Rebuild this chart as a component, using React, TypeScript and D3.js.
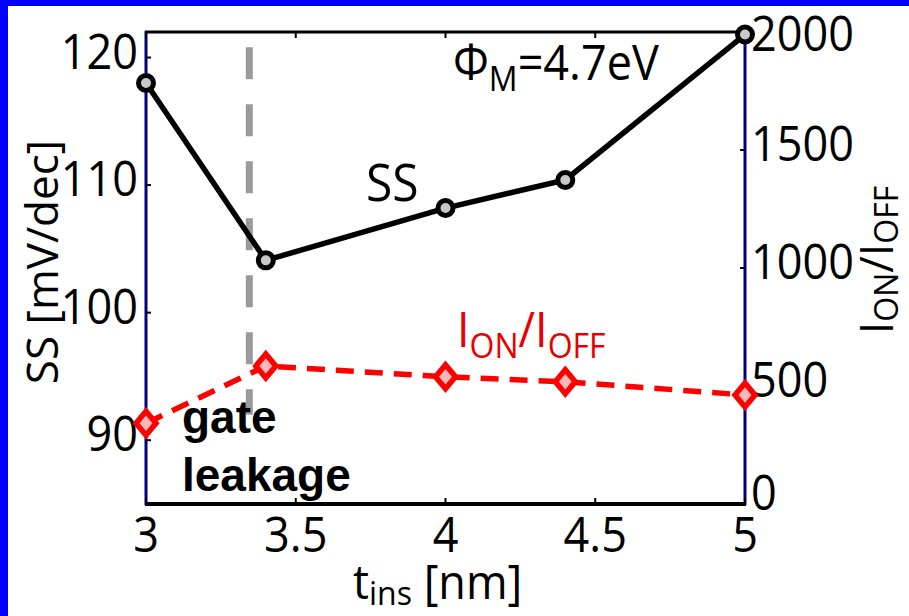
import React from "react";
import * as d3 from "d3";

const tIns = [3, 3.4, 4, 4.4, 5];
const ssValues = [118, 104.1, 108.2, 110.4, 121.8];
const ionIoffValues = [342, 585, 539, 518, 462];
const xTicks = [3, 3.5, 4, 4.5, 5];
const leftTicks = [90, 100, 110, 120];
const rightTicks = [0, 500, 1000, 1500, 2000];
const leakageX = 3.345;
const leakageRange = [92.0, 120.8];

const W = 909;
const H = 616;
const FONT = "'Open Sans', 'Noto Sans', sans-serif";
const SY = 1.08;

function T(props: any) {
  const { x, y, rotate, sy, children, ...rest } = props;
  const tr = `translate(${x},${y})${rotate ? ` rotate(${rotate})` : ""} scale(1,${sy ?? SY})`;
  return (
    <text transform={tr} fontFamily={FONT} fill="#000" {...rest}>
      {children}
    </text>
  );
}

export default function App() {
  const x = d3.scaleLinear().domain([3, 5]).range([146, 745]);
  const yL = d3.scaleLinear().domain([85, 122]).range([504, 32]);
  const yR = d3.scaleLinear().domain([0, 2000]).range([504, 32]);

  const ssLine = d3
    .line<number>()
    .x((_, i) => x(tIns[i]))
    .y((d) => yL(d));
  const ionLine = d3
    .line<number>()
    .x((_, i) => x(tIns[i]))
    .y((d) => yR(d));

  const diamond = (cx: number, cy: number) =>
    `M${cx},${cy - 12} L${cx + 10},${cy} L${cx},${cy + 12} L${cx - 10},${cy} Z`;

  return (
    <svg
      width={W}
      height={H}
      style={{ position: "absolute", left: 0, top: 0, display: "block" }}
    >
      <rect x={0} y={0} width={W} height={H} fill="#ffffff" />
      {/* blue frame */}
      <rect x={0} y={0} width={W} height={6} fill="#0000fe" />
      <rect x={0} y={0} width={8} height={H} fill="#0000fe" />

      {/* gate leakage vertical dashed line */}
      <line
        x1={x(leakageX)}
        x2={x(leakageX)}
        y1={yL(leakageRange[1])}
        y2={yL(leakageRange[0])}
        stroke="#9a9a9a"
        strokeWidth={7}
        strokeDasharray="32 25"
      />

      {/* axes */}
      <line x1={x(3) - 1} x2={x(5) + 1} y1={32} y2={32} stroke="#000" strokeWidth={3} />
      <line x1={x(3) - 1} x2={x(5) + 1} y1={504} y2={504} stroke="#000" strokeWidth={4} />
      <line x1={x(3)} x2={x(3)} y1={31} y2={505} stroke="#000080" strokeWidth={3} />
      <line x1={x(5)} x2={x(5)} y1={31} y2={505} stroke="#000080" strokeWidth={3} />

      {/* x ticks */}
      {xTicks.map((t) => (
        <g key={"xt" + t}>
          <line x1={x(t)} x2={x(t)} y1={504} y2={498} stroke="#000" strokeWidth={2} />
          <line x1={x(t)} x2={x(t)} y1={32} y2={38} stroke="#000" strokeWidth={2} />
          <T x={x(t)} y={552} textAnchor="middle" fontSize={45}>
            {t}
          </T>
        </g>
      ))}

      {/* left ticks */}
      {leftTicks.map((t) => (
        <g key={"lt" + t}>
          <line x1={x(3)} x2={x(3) + 5} y1={yL(t)} y2={yL(t)} stroke="#000" strokeWidth={2} />
          <T x={138} y={yL(t) + 11} textAnchor="end" fontSize={45}>
            {t}
          </T>
        </g>
      ))}

      {/* right ticks */}
      {rightTicks.map((t) => (
        <g key={"rt" + t}>
          <line x1={x(5)} x2={x(5) - 5} y1={yR(t)} y2={yR(t)} stroke="#000" strokeWidth={2} />
          <T
            x={751}
            y={Math.min(Math.max(yR(t) + 11, 51), 510)}
            textAnchor="start"
            fontSize={45}
          >
            {t}
          </T>
        </g>
      ))}

      {/* SS series */}
      <path d={ssLine(ssValues) || ""} fill="none" stroke="#000" strokeWidth={5.5} />
      {ssValues.map((v, i) => (
        <circle
          key={"ss" + i}
          cx={x(tIns[i])}
          cy={yL(v)}
          r={7.5}
          fill="#c8c8c8"
          stroke="#000"
          strokeWidth={5}
        />
      ))}

      {/* Ion/Ioff series */}
      <path
        d={ionLine(ionIoffValues) || ""}
        fill="none"
        stroke="#ff0000"
        strokeWidth={5.5}
        strokeDasharray="18 11"
      />
      {ionIoffValues.map((v, i) => (
        <path
          key={"io" + i}
          d={diamond(x(tIns[i]), yR(v))}
          fill="#ffb8b8"
          stroke="#ff0000"
          strokeWidth={5.5}
        />
      ))}

      {/* annotations */}
      <T x={453} y={80} fontSize={45}>
        Φ
        <tspan fontSize={32} dy={10}>M</tspan>
        <tspan dy={-10}>=4.7eV</tspan>
      </T>
      <T x={366} y={201} fontSize={48}>
        SS
      </T>
      <T x={457} y={347} fontSize={45} fill="#e80000">
        I<tspan fontSize={32} dy={10}>ON</tspan>
        <tspan dy={-10}>/I</tspan>
        <tspan fontSize={32} dy={10}>OFF</tspan>
      </T>
      <text
        x={182}
        y={433}
        fontFamily="'Liberation Sans', Arial, sans-serif"
        fontWeight="bold"
        fontSize={46}
        fill="#000"
      >
        gate
      </text>
      <text
        x={182}
        y={491}
        fontFamily="'Liberation Sans', Arial, sans-serif"
        fontWeight="bold"
        fontSize={46}
        fill="#000"
      >
        leakage
      </text>

      {/* axis titles */}
      <text
        transform="translate(58,262) rotate(-90)"
        textAnchor="middle"
        fontFamily={FONT}
        fontSize={44}
        fill="#000"
      >
        SS [mV/dec]
      </text>
      <text
        transform="translate(893,260) rotate(-90)"
        textAnchor="middle"
        fontFamily={FONT}
        fontSize={45}
        fill="#000"
      >
        I<tspan fontSize={32} dy={5}>ON</tspan>
        <tspan dy={-5}>/I</tspan>
        <tspan fontSize={32} dy={5}>OFF</tspan>
      </text>
      <T x={353} y={599} sy={1.04} fontSize={45}>
        t<tspan fontSize={32} dy={6}>ins</tspan>
        <tspan dy={-6}> [nm]</tspan>
      </T>
    </svg>
  );
}
